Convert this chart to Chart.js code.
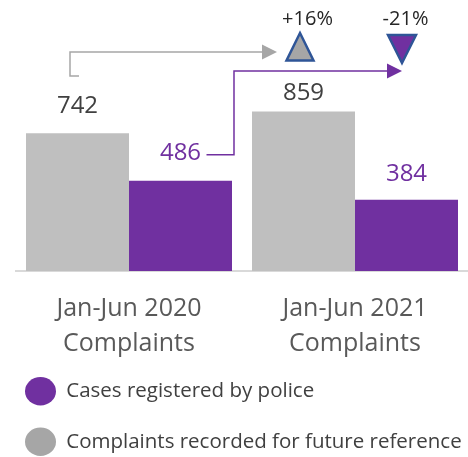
<!DOCTYPE html>
<html>
<head>
<meta charset="utf-8">
<script src="https://cdn.jsdelivr.net/npm/chart.js@4.4.1/dist/chart.umd.min.js"></script>
<style>
  html, body { margin: 0; padding: 0; background: #fff; }
  #wrap { width: 468px; height: 457px; position: relative; }
</style>
</head>
<body>
<div id="wrap"><canvas id="complaintsChart"></canvas></div>
<script>
// values
const categories = [["Jan-Jun 2020", "Complaints"], ["Jan-Jun 2021", "Complaints"]];
const recordedValues = [742, 859];
const registeredValues = [486, 384];
const changeLabels = ["+16%", "-21%"];
const seriesNames = ["Complaints recorded for future reference", "Cases registered by police"];

const FONT = "'Open Sans', 'Noto Sans', sans-serif";
const GREY = "#BFBFBF";
const PURPLE = "#7030A0";

// numbers above the bars
const barLabels = {
  id: "barLabels",
  afterDatasetsDraw(chart, args, opts) {
    const c = chart.ctx;
    c.save();
    c.font = "24px " + FONT;
    c.textAlign = "center";
    c.textBaseline = "middle";
    chart.data.datasets.forEach((ds, i) => {
      const meta = chart.getDatasetMeta(i);
      meta.data.forEach((bar, j) => {
        c.fillStyle = opts.colors[i];
        c.fillText(String(ds.data[j]), bar.x, bar.y - opts.offsets[i][j]);
      });
    });
    c.restore();
  }
};

function arrowHead(c, tipX, y, color) {
  c.fillStyle = color;
  c.beginPath();
  c.moveTo(tipX, y);
  c.lineTo(tipX - 15, y - 7.5);
  c.lineTo(tipX - 15, y + 7.5);
  c.closePath();
  c.fill();
}

// year-on-year connectors and change markers
const changeMarks = {
  id: "changeMarks",
  afterDatasetsDraw(chart) {
    const c = chart.ctx;
    const top = chart.chartArea.top;
    const grey = chart.getDatasetMeta(0).data;
    const purple = chart.getDatasetMeta(1).data;
    c.save();
    c.lineWidth = 1.5;

    // grey connector
    const gx = grey[0].x;
    const gTri = grey[1].x - 3.5;
    const gy = top + 41;
    c.strokeStyle = "#A6A6A6";
    c.beginPath();
    c.moveTo(gx + 1.5, top + 65);
    c.lineTo(gx - 7.5, top + 65);
    c.lineTo(gx - 7.5, gy);
    c.lineTo(gTri - 25, gy);
    c.stroke();
    arrowHead(c, gTri - 23, gy, "#A6A6A6");

    // purple connector
    const px = purple[0].x;
    const pTri = purple[1].x - 4.5;
    const py = top + 60;
    const elbow = purple[0].x + purple[0].width / 2 + 2;
    c.strokeStyle = PURPLE;
    c.beginPath();
    c.moveTo(px + 26, purple[0].y - 26);
    c.lineTo(elbow, purple[0].y - 26);
    c.lineTo(elbow, py);
    c.lineTo(pTri - 2, py);
    c.stroke();
    arrowHead(c, pTri, py, PURPLE);

    // triangles
    c.lineWidth = 2.5;
    c.strokeStyle = "#2F5597";
    c.lineJoin = "miter";
    c.fillStyle = "#A6A6A6";
    c.beginPath();
    c.moveTo(gTri, top + 22);
    c.lineTo(gTri + 13.5, top + 49.5);
    c.lineTo(gTri - 13.5, top + 49.5);
    c.closePath();
    c.fill();
    c.stroke();

    c.fillStyle = PURPLE;
    c.beginPath();
    c.moveTo(pTri - 14, top + 24);
    c.lineTo(pTri + 14, top + 24);
    c.lineTo(pTri, top + 52);
    c.closePath();
    c.fill();
    c.stroke();

    // percentages
    c.fillStyle = "#262626";
    c.font = "20px " + FONT;
    c.textAlign = "center";
    c.textBaseline = "middle";
    c.fillText(changeLabels[0], grey[1].x + 4, top + 8);
    c.fillText(changeLabels[1], purple[1].x - 1, top + 8);
    c.restore();
  }
};

// move the legend block to where the picture has it, and give the
// two-line tick labels room below the axis
const legendNudge = {
  id: "legendNudge",
  afterLayout(chart) {
    chart.legend.left -= 21;
    chart.legend.top += 5;
    chart.scales.x.bottom = chart.scales.x.top + 100;
  }
};

function draw() {
  new Chart(document.getElementById("complaintsChart"), {
    type: "bar",
    data: {
      labels: categories,
      datasets: [
        {
          label: seriesNames[0],
          data: recordedValues,
          backgroundColor: GREY,
          borderWidth: 0,
        },
        {
          label: seriesNames[1],
          data: registeredValues,
          backgroundColor: PURPLE,
          borderWidth: 0,
        },
      ],
    },
    plugins: [barLabels, changeMarks, legendNudge],
    options: {
      responsive: true,
      maintainAspectRatio: false,
      animation: false,
      layout: { padding: { top: 11, left: 16, right: 0, bottom: 0 } },
      datasets: {
        bar: { categoryPercentage: 0.9115, barPercentage: 1 },
      },
      plugins: {
        tooltip: { enabled: false },
        barLabels: {
          colors: ["#404040", PURPLE],
          offsets: [[27, 18], [28, 26]],
        },
        legend: {
          position: "bottom",
          align: "start",
          reverse: true,
          labels: {
            usePointStyle: true,
            pointStyle: "circle",
            pointStyleWidth: 31,
            boxHeight: 20,
            padding: 30,
            color: "#404040",
            font: { family: FONT, size: 20.5 },
            // legend swatch colours: grey a shade darker than the bars
            generateLabels(chart) {
              return chart.data.datasets.map((ds, i) => ({
                text: ds.label,
                fillStyle: i === 0 ? "#A6A6A6" : PURPLE,
                strokeStyle: "transparent",
                lineWidth: 0,
                pointStyle: "circle",
                datasetIndex: i,
                fontColor: "#404040",
              }));
            },
          },
        },
      },
      scales: {
        x: {
          grid: { display: false, drawTicks: false },
          border: { display: true, color: "#D9D9D9", width: 2 },
          ticks: {
            color: "#595959",
            padding: 21,
            font: { family: FONT, size: 25, lineHeight: 1.38 },
          },
          afterFit(scale) {
            scale.height = 75;
          },
        },
        y: {
          display: false,
          min: 0,
          max: 1400,
        },
      },
    },
  });
}

document.fonts.load("20px 'Open Sans'").then(draw, draw);
</script>
</body>
</html>
